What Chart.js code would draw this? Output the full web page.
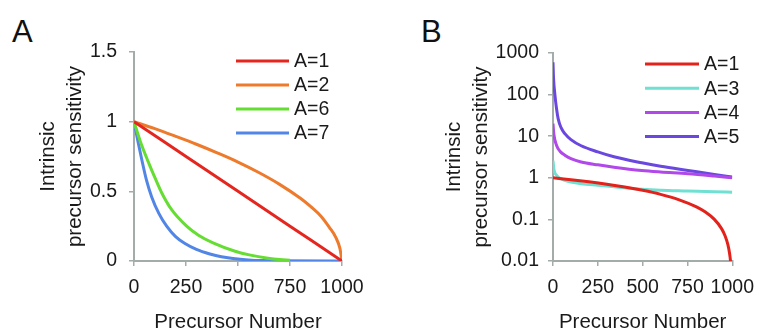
<!DOCTYPE html>
<html>
<head>
<meta charset="utf-8">
<script src="https://cdn.jsdelivr.net/npm/chart.js@4.4.1/dist/chart.umd.min.js"></script>
<style>
  html, body { margin:0; padding:0; background:#fff; }
  body { width:764px; height:335px; position:relative; overflow:hidden; font-family:"Liberation Sans", Arial, sans-serif; }
  .pane { position:absolute; top:0; width:382px; height:335px; }
  .letter { position:absolute; font-size:31px; line-height:1; color:#111; font-family:"Liberation Sans", Arial, sans-serif; }
</style>
</head>
<body>
<div class="letter" style="left:12px; top:16px;">A</div>
<div class="letter" style="left:421px; top:16px;">B</div>
<div class="pane" style="left:0;"><canvas id="cA" width="382" height="335"></canvas></div>
<div class="pane" style="left:382px;"><canvas id="cB" width="382" height="335"></canvas></div>
<script>
// ---------- Panel A data (linear y) ----------
const aLabels = ["A=1", "A=2", "A=6", "A=7"];
const a1X = [0, 250, 500, 750, 1000];
const a1Y = [1, 0.75, 0.5, 0.25, 0];
const a2X = [0, 100, 200, 300, 400, 500, 600, 700, 800, 850, 900, 940, 970, 990, 1000];
const a2Y = [1, 0.95, 0.895, 0.838, 0.776, 0.71, 0.635, 0.55, 0.45, 0.39, 0.32, 0.24, 0.17, 0.09, 0];
const a6X = [0, 30, 69, 100, 133, 180, 253, 310, 380, 486, 560, 644, 700, 750];
const a6Y = [1, 0.86, 0.71, 0.6, 0.49, 0.37, 0.25, 0.185, 0.13, 0.07, 0.042, 0.02, 0.01, 0.005];
const a7X = [0, 20, 37, 60, 85, 120, 157, 200, 245, 300, 365, 420, 476, 550, 620, 700, 1000];
const a7Y = [1, 0.85, 0.73, 0.58, 0.46, 0.34, 0.25, 0.175, 0.125, 0.083, 0.05, 0.03, 0.018, 0.008, 0.003, 0.001, 0];
const aYTicks = [0, 0.5, 1, 1.5];
const aYTickLabels = ["0", "0.5", "1", "1.5"];

// ---------- Panel B data (log y) ----------
const bLabels = ["A=1", "A=3", "A=4", "A=5"];
const b1X = [0, 100, 200, 300, 400, 500, 600, 700, 800, 850, 900, 940, 960, 975, 985, 990, 995, 1000];
const b1Y = [1, 0.9, 0.8, 0.7, 0.6, 0.5, 0.4, 0.3, 0.2, 0.15, 0.1, 0.06, 0.04, 0.025, 0.015, 0.01, 0.005, 0.001];
const b3X = [0, 5, 20, 40, 66, 100, 157, 250, 340, 495, 600, 750, 900, 1000];
const b3Y = [2.6, 1.6, 1.15, 0.97, 0.87, 0.79, 0.72, 0.66, 0.61, 0.53, 0.5, 0.48, 0.46, 0.45];
const b4X = [0, 5, 20, 40, 66, 100, 157, 250, 340, 495, 600, 753, 900, 1000];
const b4Y = [20, 11, 6, 4.3, 3.5, 2.9, 2.4, 2.05, 1.8, 1.5, 1.38, 1.25, 1.1, 1.0];
const b5X = [0, 3, 11, 20, 29, 45, 66, 100, 157, 250, 340, 495, 600, 753, 900, 1000];
const b5Y = [600, 250, 96, 45, 26, 16, 11.5, 8.3, 5.9, 4.2, 3.2, 2.3, 1.9, 1.5, 1.2, 1.05];
const bYTicks = [0.01, 0.1, 1, 10, 100, 1000];
const bYTickLabels = ["0.01", "0.1", "1", "10", "100", "1000"];

// ---------- shared x ----------
const xTicks = [0, 250, 500, 750, 1000];
const xTickLabels = ["0", "250", "500", "750", "1000"];

const FONT = '"Liberation Sans", Arial, sans-serif';
const AXIS = '#a3abab';
const TXT = '#1a1a1a';

function pts(xs, ys) { return xs.map((x, i) => ({ x: x, y: ys[i] })); }
function ds(label, xs, ys, color) {
  return { label: label, data: pts(xs, ys), borderColor: color, backgroundColor: color,
           borderWidth: 3, pointRadius: 0, fill: false, cubicInterpolationMode: 'monotone' };
}

const inLegend = {
  id: 'inLegend',
  afterDatasetsDraw(chart, args, o) {
    const ctx = chart.ctx;
    ctx.save();
    chart.data.datasets.forEach((d, i) => {
      const y = o.y + i * o.step;
      ctx.strokeStyle = d.borderColor;
      ctx.lineWidth = 3;
      ctx.beginPath();
      ctx.moveTo(o.x, y);
      ctx.lineTo(o.x + o.len, y);
      ctx.stroke();
      ctx.fillStyle = TXT;
      ctx.font = o.size + 'px ' + FONT;
      ctx.textBaseline = 'middle';
      ctx.textAlign = 'left';
      ctx.fillText(d.label, o.x + o.len + o.gap, y + 1);
    });
    ctx.restore();
  }
};

function makeChart(id, datasets, yCfg, geom) {
  return new Chart(document.getElementById(id), {
    type: 'line',
    data: { datasets: datasets },
    plugins: [inLegend],
    options: {
      responsive: false,
      animation: false,
      events: [],
      layout: { padding: { top: geom.top, right: geom.right, left: 0, bottom: 0 } },
      plugins: {
        legend: { display: false },
        tooltip: { enabled: false },
        inLegend: geom.legend
      },
      scales: {
        x: {
          type: 'linear', min: 0, max: 1000,
          afterBuildTicks: s => { s.ticks = xTicks.map(v => ({ value: v })); },
          afterFit: s => { s.height = geom.xh; },
          ticks: { padding: geom.xpad, color: TXT, font: { family: FONT, size: 19.5 },
                   maxRotation: 0, minRotation: 0, autoSkip: false, callback: (v, i) => xTickLabels[i] },
          grid: { drawOnChartArea: false, drawTicks: true, tickLength: 5, color: AXIS, lineWidth: 1.5 },
          border: { display: true, color: AXIS, width: 2 },
          title: { display: true, text: 'Precursor Number', color: TXT,
                   font: { family: FONT, size: 20.5, lineHeight: 1.2 }, padding: { top: 0, bottom: 0 } }
        },
        y: Object.assign({
          afterFit: s => { s.width = geom.yw; },
          grid: { drawOnChartArea: false, drawTicks: true, tickLength: 5, color: AXIS, lineWidth: 1.5 },
          border: { display: true, color: AXIS, width: 2 },
          title: { display: true, text: ['Intrinsic', 'precursor sensitivity'], color: TXT,
                   font: { family: FONT, size: 20.5, lineHeight: 1.32 }, padding: { top: geom.ttop, bottom: 0 } }
        }, yCfg)
      }
    }
  });
}

makeChart('cA', [
  ds(aLabels[0], a1X, a1Y, '#e5261f'),
  ds(aLabels[1], a2X, a2Y, '#ee7a2c'),
  ds(aLabels[2], a6X, a6Y, '#66dd33'),
  ds(aLabels[3], a7X, a7Y, '#5286e6')
], {
  type: 'linear', min: 0, max: 1.5,
  afterBuildTicks: s => { s.ticks = aYTicks.map(v => ({ value: v })); },
  ticks: { padding: 12, color: TXT, font: { family: FONT, size: 19.5 }, autoSkip: false,
           callback: (v, i) => aYTickLabels[i] }
}, { top: 52, right: 40, xh: 74, yw: 134, xpad: 10, ttop: 34.5,
     legend: { x: 236, y: 61, step: 24, len: 53, gap: 5, size: 19.5 } });

makeChart('cB', [
  ds(bLabels[0], b1X, b1Y, '#e3221b'),
  ds(bLabels[1], b3X, b3Y, '#6fe0d2'),
  ds(bLabels[2], b4X, b4Y, '#b048ea'),
  ds(bLabels[3], b5X, b5Y, '#6a48e0')
], {
  type: 'logarithmic', min: 0.01, max: 1000,
  afterBuildTicks: s => { s.ticks = bYTicks.map(v => ({ value: v })); },
  ticks: { padding: 9, color: TXT, font: { family: FONT, size: 19.5 }, autoSkip: false,
           callback: (v, i) => bYTickLabels[i] }
}, { top: 53, right: 29, xh: 74, yw: 171, xpad: 10, ttop: 58.5,
     legend: { x: 263, y: 64, step: 24.2, len: 54, gap: 5, size: 19.5 } });
</script>
</body>
</html>
